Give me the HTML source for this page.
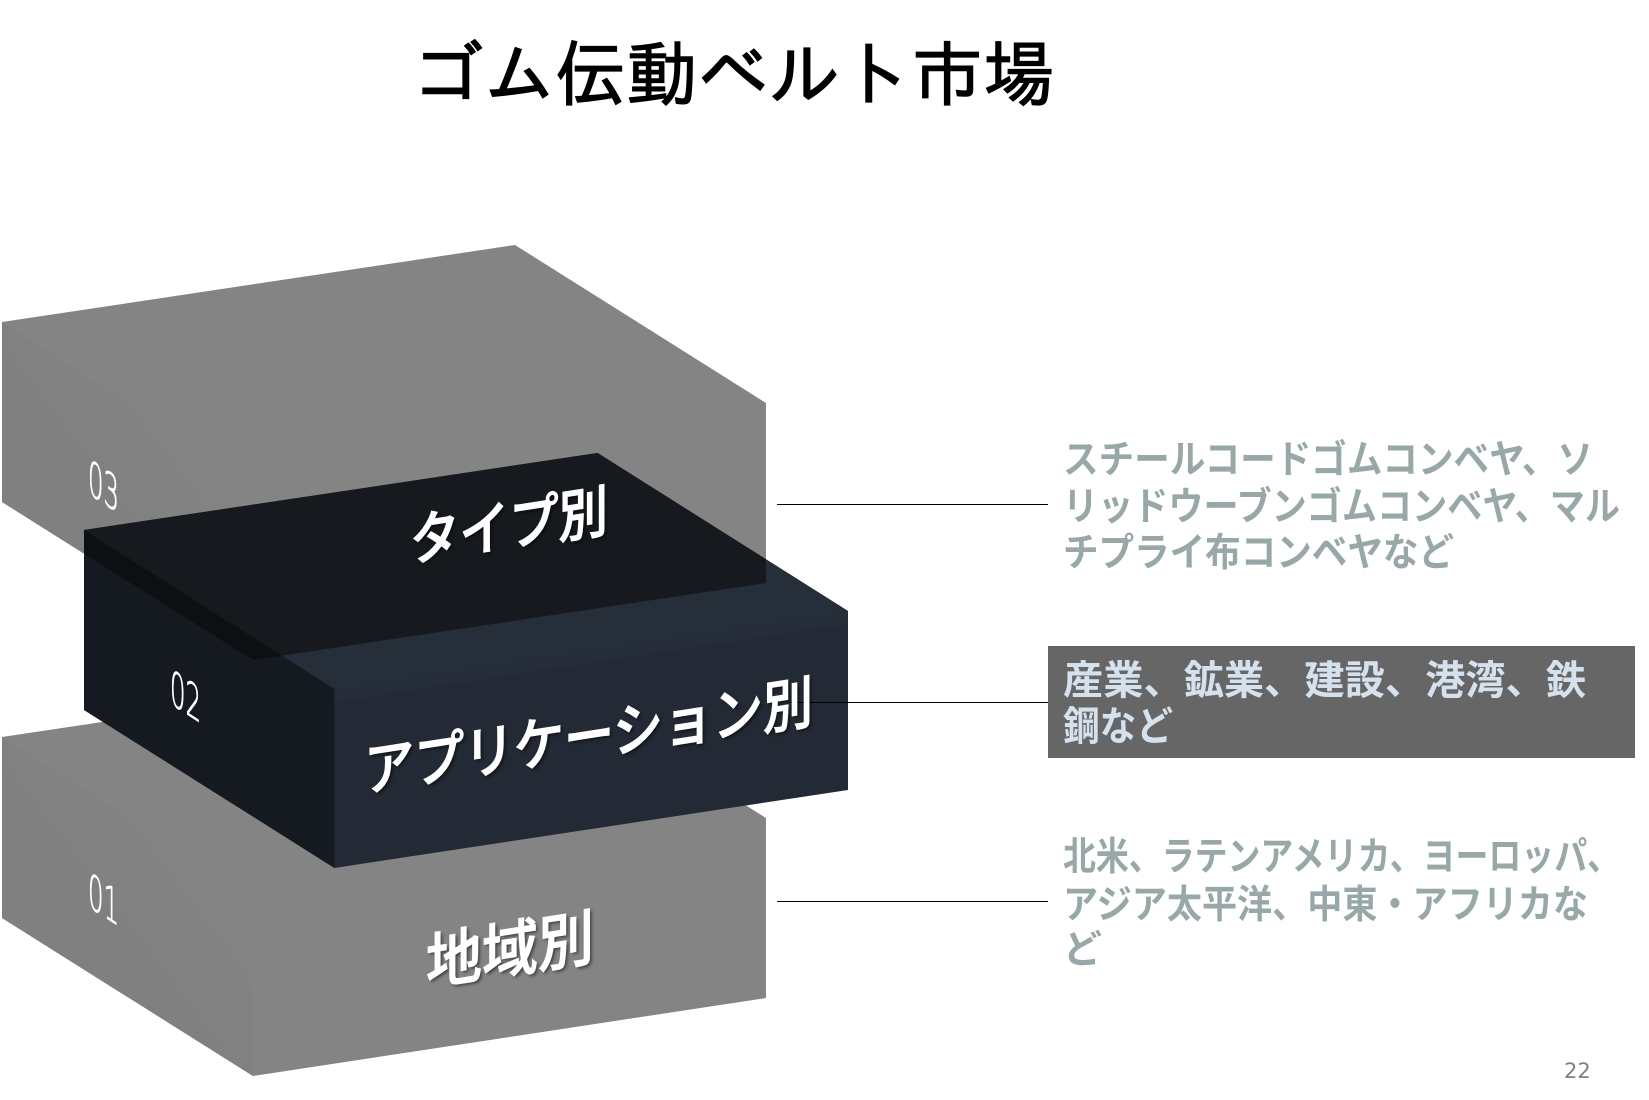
<!DOCTYPE html>
<html><head><meta charset="utf-8"><style>
html,body{margin:0;padding:0;background:#fff}
body{width:1649px;height:1100px;position:relative;overflow:hidden;font-family:"Liberation Sans","Noto Sans CJK JP",sans-serif}
svg{position:absolute;left:0;top:0}
.t{position:absolute;white-space:nowrap}
.title{left:412px;top:31px;font-size:71.4px;line-height:90px;font-family:"Liberation Sans","IPAGothic",sans-serif;color:#000;-webkit-text-stroke:1.2px #000}
.lab{color:#fff;font-weight:500;text-shadow:2px 2px 3px rgba(0,0,0,.55);transform-origin:0 50%;-webkit-text-stroke:1px #fff}
.n{color:#fff;font-size:42px;line-height:50px;font-family:"DejaVu Sans",sans-serif;font-weight:200;transform-origin:0 50%;transform:matrix(.58,.38,0,1.15,0,0);-webkit-text-stroke:.8px #fff}
.r{font-family:"Liberation Sans","Noto Sans CJK JP",sans-serif;font-size:39px;font-weight:700;fill:#98a8a8}
.m{fill:#d5e1ec;font-size:40px}
</style></head><body>
<svg width="1649" height="1100" viewBox="0 0 1649 1100">
<defs>
<clipPath id="c"><polygon points="2,322 515,245 766,403 766,583 253,660 2,502"/></clipPath>
<linearGradient id="lf" gradientUnits="userSpaceOnUse" x1="60" y1="460" x2="190" y2="360"><stop offset="0" stop-color="#808080"/><stop offset="1" stop-color="#858585"/></linearGradient>
<linearGradient id="lf2" gradientUnits="userSpaceOnUse" x1="60" y1="875" x2="190" y2="775"><stop offset="0" stop-color="#808080"/><stop offset="1" stop-color="#858585"/></linearGradient>
</defs>
<polygon points="2,737 515,660 766,818 766,998 253,1076 2,918" fill="#848484"/>
<polygon points="2,737 253,895 253,1076 2,918" fill="url(#lf2)"/>
<polygon points="2,322 515,245 766,403 766,583 253,660 2,502" fill="#848484"/>
<polygon points="2,322 253,482 253,660 2,502" fill="url(#lf)"/>
<polygon points="84,530 597.6,453 848,611 848,790 334.4,868 84,710" fill="#232a35"/>
<polygon points="84,530 597.6,453 848,611 334.4,689" fill="#262e39"/>
<polygon points="334.4,689 848,611 848,624 334.4,702" fill="#252d38"/>
<polygon points="84,530 334.4,689 334.4,868 84,710" fill="#151920"/>
<g clip-path="url(#c)">
<polygon points="84,530 597.6,453 848,611 334.4,689" fill="#161a1e"/>
<polygon points="84,530 334.4,689 334.4,868 84,710" fill="#0d1012"/>
</g>
<line x1="777" y1="504.5" x2="1048" y2="504.5" stroke="#000" stroke-width="1"/>
<line x1="790" y1="702.5" x2="1048" y2="702.5" stroke="#000" stroke-width="1"/>
<line x1="777" y1="901.5" x2="1048" y2="901.5" stroke="#000" stroke-width="1"/>
<rect x="1048" y="646" width="587" height="112" fill="#666"/>
<g class="r">
<text x="1063" y="473" textLength="530" lengthAdjust="spacingAndGlyphs">スチールコードゴムコンベヤ、ソ</text>
<text x="1063" y="520" textLength="557" lengthAdjust="spacingAndGlyphs">リッドウーブンゴムコンベヤ、マル</text>
<text x="1063" y="566" textLength="391" lengthAdjust="spacingAndGlyphs">チプライ布コンベヤなど</text>
<text class="m" x="1063" y="694" textLength="523" lengthAdjust="spacingAndGlyphs">産業、鉱業、建設、港湾、鉄</text>
<text class="m" x="1063" y="740" textLength="110" lengthAdjust="spacingAndGlyphs">鋼など</text>
<text x="1063" y="870" textLength="557" lengthAdjust="spacingAndGlyphs">北米、ラテンアメリカ、ヨーロッパ、</text>
<text x="1063" y="918" textLength="525" lengthAdjust="spacingAndGlyphs">アジア太平洋、中東・アフリカな</text>
<text x="1063" y="963">ど</text>
</g>
</svg>
<div class="t title">ゴム伝動ベルト市場</div>
<div class="t lab" style="left:410px;top:513px;font-size:49.5px;line-height:60px;transform:matrix(1,-.155,0,1.15,0,0)">タイプ別</div>
<div class="t lab" style="left:364px;top:742px;font-size:50px;line-height:60px;transform:matrix(1,-.155,0,1.15,0,0)">アプリケーション別</div>
<div class="t lab" style="left:426px;top:934px;font-size:56px;line-height:60px;transform:matrix(1,-.155,0,1.1,0,0)">地域別</div>
<div class="t n" style="left:88px;top:452px">03</div>
<div class="t n" style="left:170px;top:662px">02</div>
<div class="t n" style="left:88px;top:865px">01</div>
<div class="t" style="left:1564px;top:1058px;font-size:21px;line-height:26px;color:#808080;font-family:'DejaVu Sans',sans-serif">22</div>
</body></html>
